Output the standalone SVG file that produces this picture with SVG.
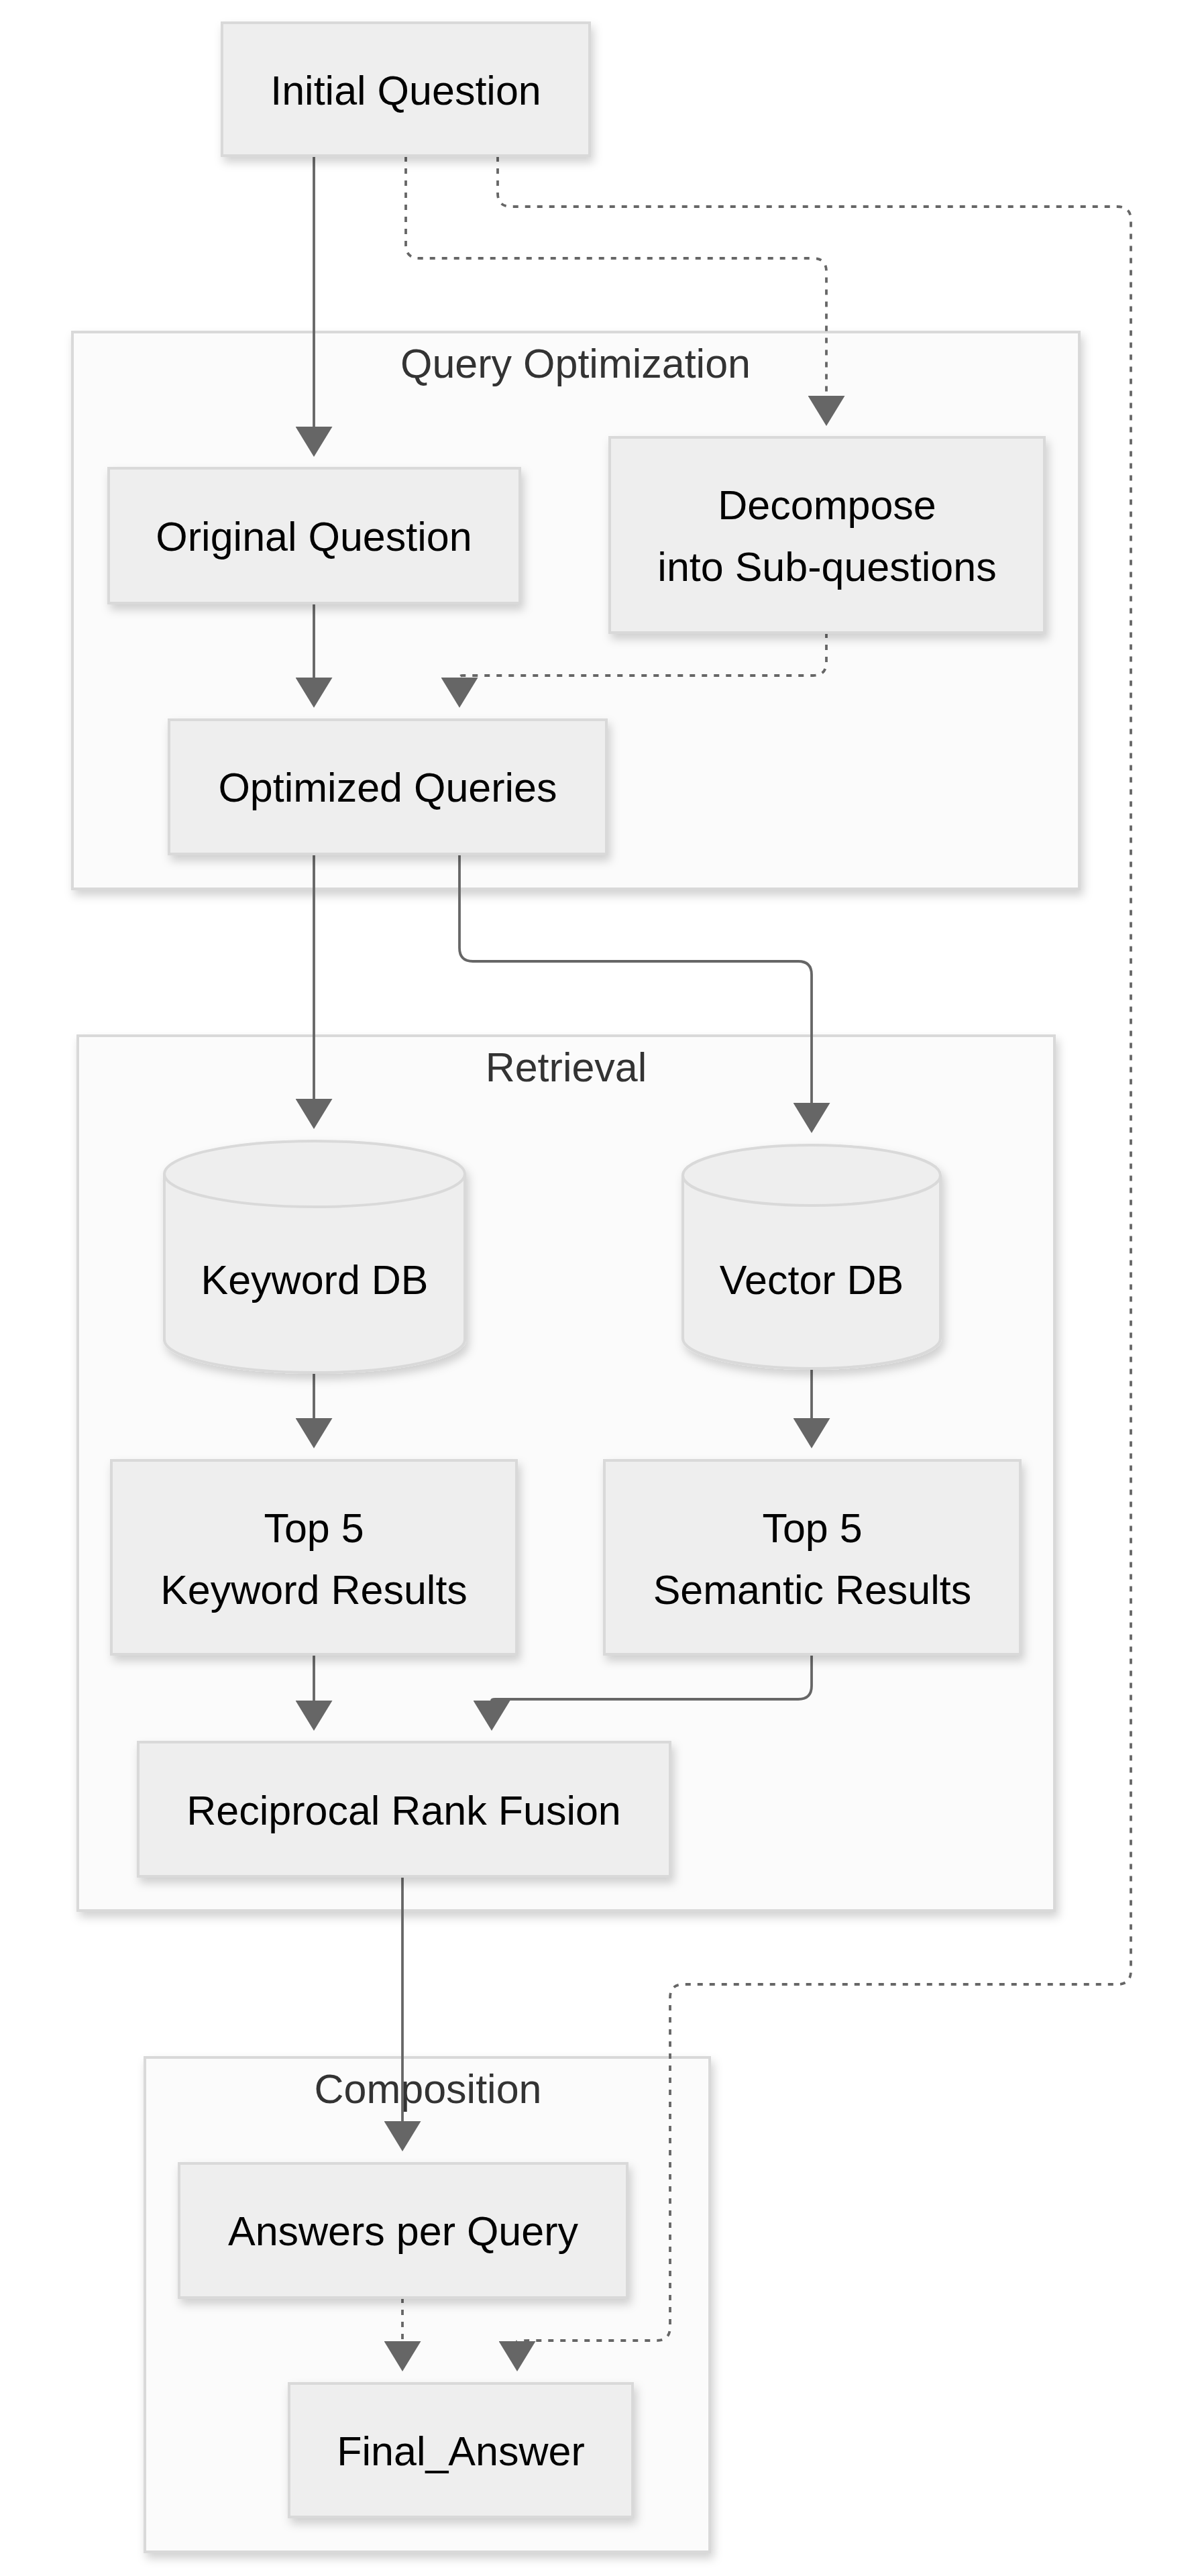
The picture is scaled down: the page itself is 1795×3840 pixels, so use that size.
<svg xmlns="http://www.w3.org/2000/svg" width="1795" height="3840" viewBox="0 0 1795 3840">
<style>
.cluster{fill:#fbfbfb;stroke:#d9d9d9;stroke-width:4}
.node{fill:#eeeeee;stroke:#d9d9d9;stroke-width:4}
.ntext{font-family:"Liberation Sans",Arial,sans-serif;font-size:61px;fill:#000;text-anchor:middle}
.ctext{font-family:"Liberation Sans",Arial,sans-serif;font-size:61px;fill:#333;text-anchor:middle}
.edge{fill:none;stroke:#666;stroke-width:3.8}
.dash{stroke-dasharray:8 10}
</style>
<defs>
<filter id="sh" x="-10%" y="-10%" width="130%" height="130%">
<feDropShadow dx="4" dy="8" stdDeviation="7" flood-color="#000" flood-opacity="0.18"/>
</filter>
<marker id="arr" viewBox="0 0 45 55" markerWidth="45" markerHeight="55" refX="0" refY="27.5" orient="90" markerUnits="userSpaceOnUse">
<path d="M0,0 L45,27.5 L0,55 z" fill="#666"/>
</marker>
</defs>
<rect width="1795" height="3840" fill="#fff"/>
<g id="clusters">
<g id="cluster-query-optimization">
<rect class="cluster" x="108" y="495" width="1501" height="830" filter="url(#sh)"/>
<text class="ctext" x="858" y="563">Query Optimization</text>
</g>
<g id="cluster-retrieval">
<rect class="cluster" x="116" y="1544" width="1456" height="1304" filter="url(#sh)"/>
<text class="ctext" x="844" y="1612">Retrieval</text>
</g>
<g id="cluster-composition">
<rect class="cluster" x="216" y="3067" width="842" height="737" filter="url(#sh)"/>
<text class="ctext" x="638" y="3135">Composition</text>
</g>
</g>
<g id="connectors">
<path class="edge" d="M468,233 V636" marker-end="url(#arr)"/>
<path class="edge dash" d="M605,233 V365 Q605,385 625,385 H1212 Q1232,385 1232,405 V590" marker-end="url(#arr)"/>
<path class="edge dash" d="M742,233 V288 Q742,308 762,308 H1666 Q1686,308 1686,328 V2938 Q1686,2958 1666,2958 H1019 Q999,2958 999,2978 V3469 Q999,3489 979,3489 H790 Q771,3489 771,3490" marker-end="url(#arr)"/>
<path class="edge" d="M468,899 V1010" marker-end="url(#arr)"/>
<path class="edge dash" d="M1232,943 V987 Q1232,1007 1212,1007 H690 Q685,1007 685,1010" marker-end="url(#arr)"/>
<path class="edge" d="M468,1273 V1638" marker-end="url(#arr)"/>
<path class="edge" d="M685,1273 V1413 Q685,1433 705,1433 H1190 Q1210,1433 1210,1453 V1644" marker-end="url(#arr)"/>
<path class="edge" d="M468,2046 V2114" marker-end="url(#arr)"/>
<path class="edge" d="M1210,2040 V2114" marker-end="url(#arr)"/>
<path class="edge" d="M468,2466 V2535" marker-end="url(#arr)"/>
<path class="edge" d="M1210,2466 V2513 Q1210,2533 1190,2533 H738 Q733,2533 733,2535" marker-end="url(#arr)"/>
<path class="edge" d="M600,2797 V3162" marker-end="url(#arr)"/>
<path class="edge dash" d="M600,3425 V3490" marker-end="url(#arr)"/>
</g>
<g id="nodes">
<g id="initial-question">
<rect class="node" x="331" y="34" width="548" height="198" filter="url(#sh)"/>
<text class="ntext" x="605" y="156">Initial Question</text>
</g>
<g id="original-question">
<rect class="node" x="162" y="698" width="613" height="201" filter="url(#sh)"/>
<text class="ntext" x="468" y="821">Original Question</text>
</g>
<g id="decompose">
<rect class="node" x="909" y="652" width="648" height="291" filter="url(#sh)"/>
<text class="ntext" x="1233" y="774">Decompose</text>
<text class="ntext" x="1233" y="866">into Sub-questions</text>
</g>
<g id="optimized-queries">
<rect class="node" x="252" y="1073" width="652" height="200" filter="url(#sh)"/>
<text class="ntext" x="578" y="1195">Optimized Queries</text>
</g>
<g id="keyword-db">
<path class="node" d="M245,1750 a224,49 0 0 0 448,0 a224,49 0 0 0 -448,0 v247 a224,49 0 0 0 448,0 v-247" filter="url(#sh)"/>
<text class="ntext" x="469" y="1929">Keyword DB</text>
</g>
<g id="vector-db">
<path class="node" d="M1018,1752 a192,45 0 0 0 384,0 a192,45 0 0 0 -384,0 v243 a192,45 0 0 0 384,0 v-243" filter="url(#sh)"/>
<text class="ntext" x="1210" y="1929">Vector DB</text>
</g>
<g id="top5-keyword">
<rect class="node" x="166" y="2177" width="604" height="289" filter="url(#sh)"/>
<text class="ntext" x="468" y="2299">Top 5</text>
<text class="ntext" x="468" y="2391">Keyword Results</text>
</g>
<g id="top5-semantic">
<rect class="node" x="901" y="2177" width="620" height="289" filter="url(#sh)"/>
<text class="ntext" x="1211" y="2299">Top 5</text>
<text class="ntext" x="1211" y="2391">Semantic Results</text>
</g>
<g id="rrf">
<rect class="node" x="206" y="2597" width="793" height="200" filter="url(#sh)"/>
<text class="ntext" x="602" y="2720">Reciprocal Rank Fusion</text>
</g>
<g id="answers-per-query">
<rect class="node" x="267" y="3225" width="668" height="200" filter="url(#sh)"/>
<text class="ntext" x="601" y="3347">Answers per Query</text>
</g>
<g id="final-answer">
<rect class="node" x="431" y="3553" width="512" height="199" filter="url(#sh)"/>
<text class="ntext" x="687" y="3675">Final_Answer</text>
</g>
</g>
</svg>
